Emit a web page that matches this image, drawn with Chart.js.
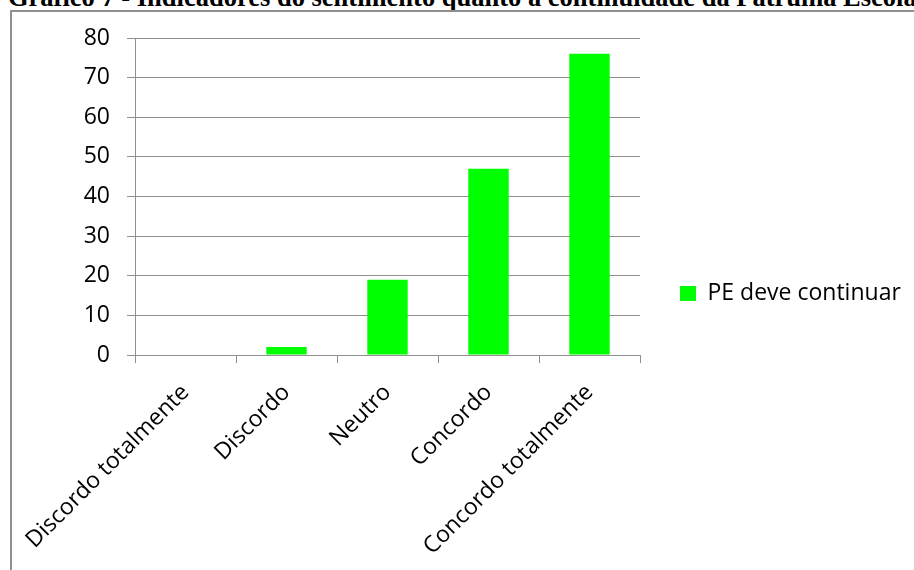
<!DOCTYPE html>
<html lang="pt">
<head>
<meta charset="utf-8">
<title>Gráfico 7</title>
<script src="https://cdn.jsdelivr.net/npm/chart.js@4.4.1/dist/chart.umd.min.js"></script>
<style>
  html, body { margin: 0; padding: 0; background: #fff; }
  body { width: 914px; height: 570px; overflow: hidden; position: relative; }
  .caption {
    position: absolute; left: 8px; top: -16px;
    font: bold 26.5px/26px "Liberation Serif", "Times New Roman", serif;
    color: #000; white-space: nowrap;
  }
  .frame {
    position: absolute; left: 10px; top: 10px; width: 1000px; height: 1000px;
    border: 2px solid #8f8f8f; box-sizing: border-box;
  }
  /* o canvas começa fora da página para sobrar largura para a legenda */
  .chart-box { position: absolute; left: -188px; top: 12px; width: 1102px; height: 558px; }
</style>
</head>
<body>
<div class="caption">Gráfico 7 - Indicadores do sentimento quanto à continuidade da Patrulha Escolar</div>
<div class="frame"></div>
<div class="chart-box"><canvas id="grafico" width="1102" height="558"></canvas></div>
<script>
const categorias = ['Discordo totalmente', 'Discordo', 'Neutro', 'Concordo', 'Concordo totalmente'];
const respostas = [0, 2, 19, 47, 76];
const serieNome = 'PE deve continuar';
const escalaY = { min: 0, max: 80, passo: 10 };

const fonte = '"Open Sans", "Noto Sans", sans-serif';
const tamFonte = 23;
const tamLegenda = 23;
const cinza = '#8f8f8f';

const larguraCanvas = 1102;
const esquerdaArea = 323;   // eixo Y em x = 135 na página
const direitaArea = 828;    // fim da área de plotagem em x = 640 na página
const folgaLegenda = 40;

// largura da legenda (padding + caixa + espaço + texto + 10 do Chart.js)
const medidor = document.createElement('canvas').getContext('2d');
medidor.font = tamLegenda + 'px ' + fonte;
const larguraLegenda = folgaLegenda + 16 + tamLegenda / 2 + medidor.measureText(serieNome).width + 10;

const ctx = document.getElementById('grafico').getContext('2d');

new Chart(ctx, {
  type: 'bar',
  data: {
    labels: categorias,
    datasets: [{
      label: serieNome,
      data: respostas,
      backgroundColor: '#00ff00',
      borderWidth: 0,
      barPercentage: 0.4,
      categoryPercentage: 1
    }]
  },
  options: {
    responsive: false,
    animation: false,
    layout: {
      padding: { top: 26, bottom: 0, left: 0, right: Math.max(0, larguraCanvas - direitaArea - larguraLegenda) }
    },
    plugins: {
      legend: {
        position: 'right',
        align: 'start',
        // título vazio só para descer o item até a altura do meio do quadro
        title: { display: true, text: '', font: { size: 10, lineHeight: 1 }, padding: { top: 194, bottom: 0 } },
        labels: {
          boxWidth: 16,
          boxHeight: 15,
          padding: folgaLegenda,
          color: '#000',
          font: { family: fonte, size: tamLegenda }
        }
      },
      tooltip: { enabled: false }
    },
    scales: {
      x: {
        grid: { color: cinza, drawOnChartArea: false, drawTicks: true, tickLength: 8, offset: true },
        border: { color: cinza, width: 1 },
        ticks: {
          color: '#000',
          font: { family: fonte, size: tamFonte },
          minRotation: 45,
          maxRotation: 45,
          padding: 16,
          autoSkip: false
        },
        afterFit: function (scale) { scale.height = 215; }
      },
      y: {
        min: escalaY.min,
        max: escalaY.max,
        grid: { color: cinza, drawTicks: true, tickLength: 8 },
        border: { color: cinza, width: 1 },
        ticks: {
          stepSize: escalaY.passo,
          color: '#000',
          padding: 17,
          font: { family: fonte, size: tamFonte }
        },
        afterFit: function (scale) {
          scale.width = esquerdaArea;
          // sem folga extra acima/abaixo: o topo fica no padding do layout
          scale.paddingTop = 0;
          scale.paddingBottom = 0;
        }
      }
    }
  }
});
</script>
</body>
</html>
